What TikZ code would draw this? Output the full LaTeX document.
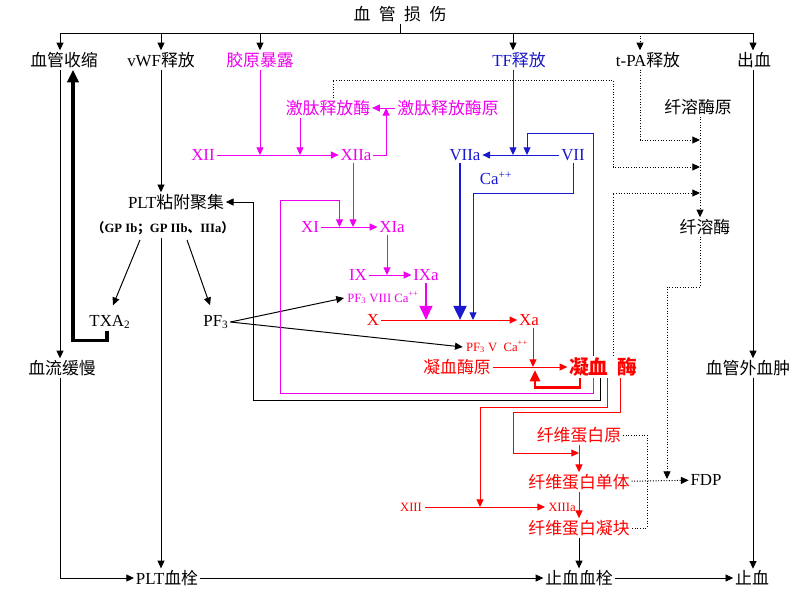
\documentclass[tikz,border=0pt]{standalone}
\usepackage{fontspec}
\setmainfont{Liberation Serif}
\newfontfamily\cjk{Noto Sans CJK SC}
\usetikzlibrary{arrows.meta,calc}
\newcommand{\zh}[1]{{\cjk #1}}
\definecolor{tfblue}{RGB}{25,25,205}
\definecolor{kmag}{RGB}{240,0,240}
\definecolor{kred}{RGB}{255,0,0}

\begin{document}
\begin{tikzpicture}[x=0.025cm, y=-0.025cm, line width=0.7pt,
  >={Triangle[length=5.5pt,width=5pt]},
  lbl/.style={inner sep=1pt, font=\fontsize{12}{14}\selectfont},
  sml/.style={inner sep=2pt, font=\fontsize{9}{11}\selectfont},
  mgt/.style={kmag}, blt/.style={tfblue}, rdt/.style={kred},
  dotln/.style={dash pattern=on 0.7pt off 1.2pt},
  bigarr/.style={-{Triangle[length=10pt,width=9pt]}}]
\path[use as bounding box, fill=white] (0,0) rectangle (800,600);

% labels
\node[lbl] (title) at (400,14) {\zh{血\hspace{6pt}管\hspace{6pt}损\hspace{6pt}伤}};
\node[lbl] (vc) at (64,60) {\zh{血管收缩}};
\node[lbl] (vwf) at (161,60) {vWF\zh{释放}};
\node[lbl,mgt] (col) at (260,60) {\zh{胶原暴露}};
\node[lbl,blt] (tf) at (519,60) {TF\zh{释放}};
\node[lbl] (tpa) at (648,60) {t-PA\zh{释放}};
\node[lbl] (bleed) at (754,60) {\zh{出血}};
\node[lbl,mgt] (kal) at (328,108) {\zh{激肽释放酶}};
\node[lbl,mgt] (pkal) at (448,108) {\zh{激肽释放酶原}};
\node[lbl] (plg) at (698,107) {\zh{纤溶酶原}};
\node[lbl,mgt] (xii) at (203,155) {XII};
\node[lbl,mgt] (xiia) at (356,155) {XIIa};
\node[lbl,blt] (viia) at (465,155) {VIIa};
\node[lbl,blt] (vii) at (573,155) {VII};
\node[lbl,blt] (ca) at (496,178) {Ca\textsuperscript{++}};
\node[lbl] (plt) at (176,202) {PLT\zh{粘附聚集}};
\node[sml,font=\fontsize{9}{11}\selectfont\bfseries] (gp) at (163,228)
  {\zh{（}GP Ib\zh{；}GP IIb\zh{、}IIIa\zh{）}};
\node[lbl] (pln) at (705,227) {\zh{纤溶酶}};
\node[lbl,mgt] (xi) at (310,227) {XI};
\node[lbl,mgt] (xia) at (392,227) {XIa};
\node[lbl,mgt] (ix) at (358,275) {IX};
\node[lbl,mgt] (ixa) at (426,275) {IXa};
\node[sml,mgt] (pf8) at (383,298) {PF\textsubscript{3} VIII Ca\textsuperscript{++}};
\node[lbl] (txa) at (110,322) {TXA\textsubscript{2}};
\node[lbl] (pf3) at (216,322) {PF\textsubscript{3}};
\node[lbl,rdt] (fx) at (373,320) {X};
\node[lbl,rdt] (fxa) at (529,320) {Xa};
\node[sml,rdt] (pf5) at (497,347) {PF\textsubscript{3} V\ \ Ca\textsuperscript{++}};
\node[lbl] (slow) at (62,368) {\zh{血流缓慢}};
\node[lbl,rdt] (pth) at (457,367) {\zh{凝血酶原}};
\node[lbl,rdt,font=\fontsize{14}{16}\selectfont\bfseries] (thr) at (603,367) {\zh{凝血\hspace{6pt}酶}};
\node[lbl] (hem) at (748,368) {\zh{血管外血肿}};
\node[lbl,rdt] (fbg) at (579,435) {\zh{纤维蛋白原}};
\node[lbl,rdt] (fbm) at (579,482) {\zh{纤维蛋白单体}};
\node[lbl] (fdp) at (706,480) {FDP};
\node[sml,rdt] (xiii) at (411,507) {XIII};
\node[sml,rdt] (xiiia) at (562,507) {XIIIa};
\node[lbl,rdt] (clot) at (579,528) {\zh{纤维蛋白凝块}};
\node[lbl] (pltt) at (167,578) {PLT\zh{血栓}};
\node[lbl] (hth) at (579,578) {\zh{止血血栓}};
\node[lbl] (stop) at (752,578) {\zh{止血}};

\coordinate (barl) at (60,33);
\coordinate (barr) at (753,33);
\coordinate (tfl) at (513,33);
\coordinate (tpl) at (640,33);
\coordinate (pl) at (700,33);
\coordinate (k1) at ($(kal.south)+(-28,0)$);
\coordinate (a1) at ($(xiia.south)+(-3,0)$);
\coordinate (a2) at ($(xia.south)+(-5,0)$);

% top bar
\draw (title) -- (title |- barl);
\draw (barl) -- (barr);
\draw[->] (barl) -- (barl |- vc.north);
\draw[->] (vwf |- barl) -- (vwf.north);
\draw[->] (col |- barl) -- (col.north);
\draw[->] (tfl) -- (tfl |- tf.north);
\draw[->,dotln] (tpl) -- (tpl |- tpa.north);
\draw[->] (barr) -- (barr |- bleed.north);

% platelets
\draw[->] (barl |- vc.south) -- (barl |- slow.north);
\draw[->] (barl |- slow.south) |- (pltt.west);
\draw[line width=2.2pt,-{Triangle[length=9pt,width=8pt]}] ($(txa.south)+(-3,0)$) -- ++(0,10) -| ($(vc.south)+(9,0)$);
\draw[->] (vwf.south) -- (vwf.south |- plt.north);
\draw[->] (vwf |- gp.south) -- (vwf |- pltt.north);
\draw[->] ($(gp.south)+(-23,2)$) -- ($(txa.north)+(3,-8)$);
\draw[->] ($(gp.south)+(24,2)$) -- ($(pf3.north)+(-6,-8)$);
\draw[->] (pf3.east) -- (pf8.west);
\draw[->] (pf3.east) -- (pf5.west);
\draw[->] ($(thr.south)+(-3,0)$) -- (600,400) -- (253,400) |- (plt.east);

% intrinsic
\draw[mgt,->] (col.south) -- (col |- xii);
\draw[mgt,->] (k1) -- (k1 |- xii);
\draw[mgt,->] (xii) -- (xiia);
\draw[mgt,->] (pkal) -- (kal);
\draw[mgt,->] (xiia.east) -| ($(kal.east)!0.6!(pkal.west)$);
\draw[mgt,->] (a1) -- (a1 |- xi);
\draw[mgt,->] ($(thr.south)+(-10,0)$) -- (593,393) -- (280,393) -- (280,200) -| ($(xi.east)!0.33!(xia.west)$);
\draw[mgt,->] (xi) -- (xia);
\draw[mgt,->] (a2) -- (a2 |- ix);
\draw[mgt,->] (ix) -- (ixa);
\draw[mgt,line width=1.5pt,bigarr] (ixa.south) -- (ixa.south |- fx);

% extrinsic
\draw[blt,->] (tfl |- tf.south) -- (tfl |- vii);
\draw[blt,->] (vii) -- (viia);
\draw[blt,->] ($(thr.north)+(-10,0)$) -- (593,133) -- (527,133) -- (527,155);
\draw[blt,->] (vii.south) |- (473,193) -- (473,320);
\draw[blt,line width=2pt,bigarr] ($(viia.south)+(-5,0)$) -- (460,320);

% common pathway
\draw[rdt,->] (fx) -- (fxa);
\draw[rdt,->] ($(fxa.south)+(4,0)$) -- ($(fxa.south |- pth)+(4,0)$);
\draw[rdt,->] (pth) -- (thr);
\draw[rdt,line width=2pt,-{Triangle[length=8pt,width=7pt]}] ($(thr.south)+(-23,0)$) -- ++(0,9) -| (535,370);
\draw[rdt,->] ($(thr.south)+(4,0)$) -- (607,407) -- (480,407) -- (480,507);
\draw[rdt,->] (xiii) -- (xiiia);
\draw[rdt,->] ($(thr.south)+(17,0)$) -- (620,412) -- (513,412) |- (579,453);
\draw[rdt,->] (fbg) -- (fbm);
\draw[rdt,->] (fbm) -- (clot);
\draw[->] (clot) -- (hth);

% bottom
\draw[->] (pltt) -- (hth);
\draw[->] (hth) -- (stop);
\draw[->] (barr |- bleed.south) -- (barr |- hem.north);
\draw[->] (barr |- hem.south) -- (barr |- stop.north);

% fibrinolysis
\draw[dotln,->] (tpl |- tpa.south) |- (700,140);
\draw[dotln,->] (pl |- plg.south) -- (pl |- pln.north);
\draw[dotln,->] ($(kal.north)+(5,0)$) |- (613,80) |- (700,167);
\draw[dotln,->] ($(thr.north)+(10,0)$) |- (700,193);
\draw[dotln,->] (pl |- pln.south) |- (667,287) -- (667,479);
\draw[dotln,->] (fbm) -- (fdp);
\draw[dotln] (fbg.east) -- (647,435) |- (clot.east);
\end{tikzpicture}
\end{document}
